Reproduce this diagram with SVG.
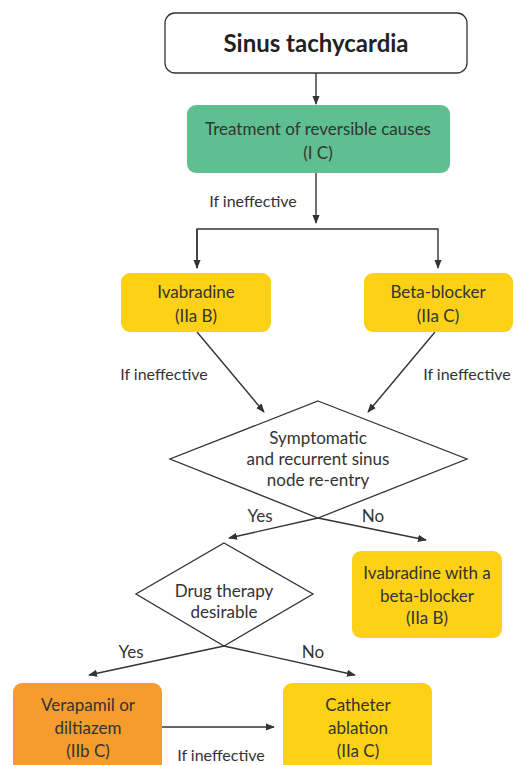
<svg xmlns="http://www.w3.org/2000/svg" width="516" height="765" viewBox="0 0 516 765">
<style>
text{font-family:Lato,"Open Sans","Liberation Sans",sans-serif;font-size:17px;fill:#333;text-anchor:middle}
.t{font-weight:bold;font-size:24px;fill:#222}
.i{font-size:16px}
.c{stroke:#333;stroke-width:1.4;fill:none}
.y{fill:#fcd116}
.d{fill:#fff;stroke:#333;stroke-width:1.3}
</style>
<defs>
<marker id="a" viewBox="0 0 10 10" refX="9" refY="5" markerWidth="9" markerHeight="9" markerUnits="userSpaceOnUse" orient="auto">
<path d="M0,1 L10,5 L0,9 Z" fill="#333"/>
</marker>
</defs>
<g id="connectors" class="c">
<line x1="316" y1="73" x2="316" y2="104" marker-end="url(#a)"/>
<line x1="316" y1="173" x2="316" y2="223" marker-end="url(#a)"/>
<polyline points="197,268 197,229 438,229 438,268" marker-end="url(#a)"/>
<line x1="197" y1="229" x2="197" y2="268" marker-end="url(#a)"/>
<line x1="197" y1="332" x2="264" y2="412" marker-end="url(#a)"/>
<line x1="435" y1="332" x2="368" y2="412" marker-end="url(#a)"/>
<line x1="318" y1="518" x2="229" y2="538" marker-end="url(#a)"/>
<line x1="318" y1="518" x2="426" y2="540" marker-end="url(#a)"/>
<line x1="224" y1="646" x2="89" y2="675" marker-end="url(#a)"/>
<line x1="224" y1="646" x2="355" y2="675" marker-end="url(#a)"/>
<line x1="162" y1="727" x2="274" y2="727" marker-end="url(#a)"/>
</g>
<g id="labels">
<text class="i" x="253" y="207">If ineffective</text>
<text class="i" x="164" y="380">If ineffective</text>
<text class="i" x="467" y="380">If ineffective</text>
<text x="260" y="522">Yes</text>
<text x="373" y="522">No</text>
<text x="131" y="658">Yes</text>
<text x="313" y="658">No</text>
<text class="i" x="221" y="761">If ineffective</text>
</g>
<g id="start">
<rect x="165" y="13" width="302" height="60" rx="10" fill="#fff" stroke="#333" stroke-width="1.3"/>
<text class="t" x="316" y="52">Sinus tachycardia</text>
</g>
<g id="treatment">
<rect x="187" y="105" width="263" height="68" rx="9" fill="#5fbf90"/>
<text x="318" y="135">Treatment of reversible causes</text>
<text x="318" y="159">(I C)</text>
</g>
<g id="ivabradine">
<rect class="y" x="121" y="273" width="150" height="59" rx="9"/>
<text x="196" y="298">Ivabradine</text>
<text x="196" y="322">(IIa B)</text>
</g>
<g id="betablocker">
<rect class="y" x="364" y="273" width="149" height="59" rx="9"/>
<text x="438" y="298">Beta-blocker</text>
<text x="438" y="322">(IIa C)</text>
</g>
<g id="symptomatic">
<polygon class="d" points="318,401 467,459 318,518 170,459"/>
<text x="318" y="444">Symptomatic</text>
<text x="318" y="465">and recurrent sinus</text>
<text x="318" y="486">node re-entry</text>
</g>
<g id="drugtherapy">
<polygon class="d" points="224,543 313,594 224,646 136,594"/>
<text x="224" y="597">Drug therapy</text>
<text x="224" y="618">desirable</text>
</g>
<g id="combo">
<rect class="y" x="352" y="551" width="150" height="87" rx="9"/>
<text x="427" y="579">Ivabradine with a</text>
<text x="427" y="602">beta-blocker</text>
<text x="427" y="624">(IIa B)</text>
</g>
<g id="verapamil">
<rect x="13" y="683" width="149" height="95" rx="9" fill="#f49c2e"/>
<text x="88" y="711">Verapamil or</text>
<text x="88" y="734">diltiazem</text>
<text x="88" y="757">(IIb C)</text>
</g>
<g id="ablation">
<rect class="y" x="283" y="683" width="149" height="95" rx="9"/>
<text x="358" y="711">Catheter</text>
<text x="358" y="734">ablation</text>
<text x="358" y="757">(IIa C)</text>
</g>
</svg>
